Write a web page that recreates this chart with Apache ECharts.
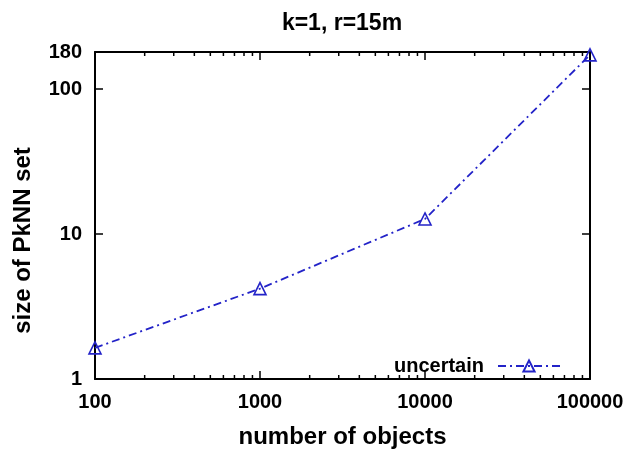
<!DOCTYPE html>
<html>
<head>
<meta charset="utf-8">
<script src="https://cdn.jsdelivr.net/npm/echarts@6/dist/echarts.min.js"></script>
<style>
html,body{margin:0;padding:0;background:#fff;}
#chart{width:630px;height:450px;}
</style>
</head>
<body>
<div id="chart"></div>
<script>
// 数据
var xObjects = [100, 1000, 10000, 100000];
var yPknn = [1.64, 4.2, 12.7, 172];
var xMinorTicks = [200, 300, 400, 500, 600, 700, 800, 900,
	2000, 3000, 4000, 5000, 6000, 7000, 8000, 9000,
	20000, 30000, 40000, 50000, 60000, 70000, 80000, 90000];
var xRange = [100, 100000];
var yRange = [1, 180];

var blue = '#2323c8';
var font = 'Liberation Sans, Arial, sans-serif';

var myChart = echarts.init(document.getElementById('chart'));

function plainLabel(v){
	return String(Math.round(v));
}

var option = {
	animation: false,
	title: {
		text: 'k=1, r=15m',
		left: 337,
		top: 7,
		textAlign: 'center',
		textStyle: {fontFamily: font, fontWeight: 'bold', fontSize: 23, color: '#000'}
	},
	legend: {
		data: ['uncertain'],
		right: 64,
		top: 351,
		align: 'right',
		itemWidth: 62,
		itemHeight: 14,
		textStyle: {fontFamily: font, fontWeight: 'bold', fontSize: 20, color: '#000', padding: [0, 9, 0, 0]}
	},
	grid: {left: 95, right: 40, top: 52, bottom: 71, outerBoundsMode: 'none', containLabel: false},
	xAxis: [{
		type: 'log',
		min: xRange[0],
		max: xRange[1],
		name: 'number of objects',
		nameLocation: 'middle',
		nameGap: 46,
		nameTextStyle: {fontFamily: font, fontWeight: 'bold', fontSize: 24, color: '#000'},
		axisLine: {lineStyle: {color: '#000', width: 2}},
		axisTick: {inside: true, length: 8, lineStyle: {color: '#000', width: 1.5}},
		axisLabel: {margin: 13, formatter: plainLabel, fontFamily: font, fontWeight: 'bold', fontSize: 20, color: '#000'},
		splitLine: {show: false}
	}, {
		type: 'log',
		position: 'top',
		min: xRange[0],
		max: xRange[1],
		axisLine: {lineStyle: {color: '#000', width: 2}},
		axisTick: {inside: true, length: 8, lineStyle: {color: '#000', width: 1.5}},
		axisLabel: {show: false},
		splitLine: {show: false}
	}],
	yAxis: [{
		type: 'log',
		min: yRange[0],
		max: yRange[1],
		name: 'size of PkNN set',
		nameLocation: 'middle',
		nameGap: 60,
		nameTextStyle: {fontFamily: font, fontWeight: 'bold', fontSize: 24, color: '#000', padding: [0, 50, 0, 0]},
		axisLine: {lineStyle: {color: '#000', width: 2}},
		axisTick: {inside: true, length: 8, lineStyle: {color: '#000', width: 1.5}},
		axisLabel: {margin: 13, formatter: plainLabel, fontFamily: font, fontWeight: 'bold', fontSize: 20, color: '#000'},
		splitLine: {show: false}
	}, {
		type: 'log',
		position: 'right',
		min: yRange[0],
		max: yRange[1],
		axisLine: {lineStyle: {color: '#000', width: 2}},
		axisTick: {inside: true, length: 8, lineStyle: {color: '#000', width: 1.5}},
		axisLabel: {show: false},
		splitLine: {show: false}
	}],
	series: [{
		name: 'uncertain',
		type: 'line',
		data: xObjects.map(function(x, i){ return [x, yPknn[i]]; }),
		symbol: 'triangle',
		symbolSize: 12,
		itemStyle: {color: 'rgba(0,0,0,0)', borderColor: blue, borderWidth: 1.6},
		lineStyle: {color: blue, width: 1.8, type: [8, 4, 2, 4]},
		clip: false,
		z: 5
	}, {
		// 次刻度
		name: 'minor',
		type: 'custom',
		coordinateSystem: 'cartesian2d',
		data: xMinorTicks.map(function(x){ return [x, yRange[0]]; }),
		clip: false,
		silent: true,
		renderItem: function(params, api){
			var p0 = api.coord([api.value(0), yRange[0]]);
			var p1 = api.coord([api.value(0), yRange[1]]);
			var st = {stroke: '#000', lineWidth: 1.5};
			return {
				type: 'group',
				children: [
					{type: 'line', shape: {x1: p0[0], y1: p0[1], x2: p0[0], y2: p0[1] - 4}, style: st},
					{type: 'line', shape: {x1: p1[0], y1: p1[1], x2: p1[0], y2: p1[1] + 4}, style: st}
				]
			};
		}
	}]
};
myChart.setOption(option);
</script>
</body>
</html>
